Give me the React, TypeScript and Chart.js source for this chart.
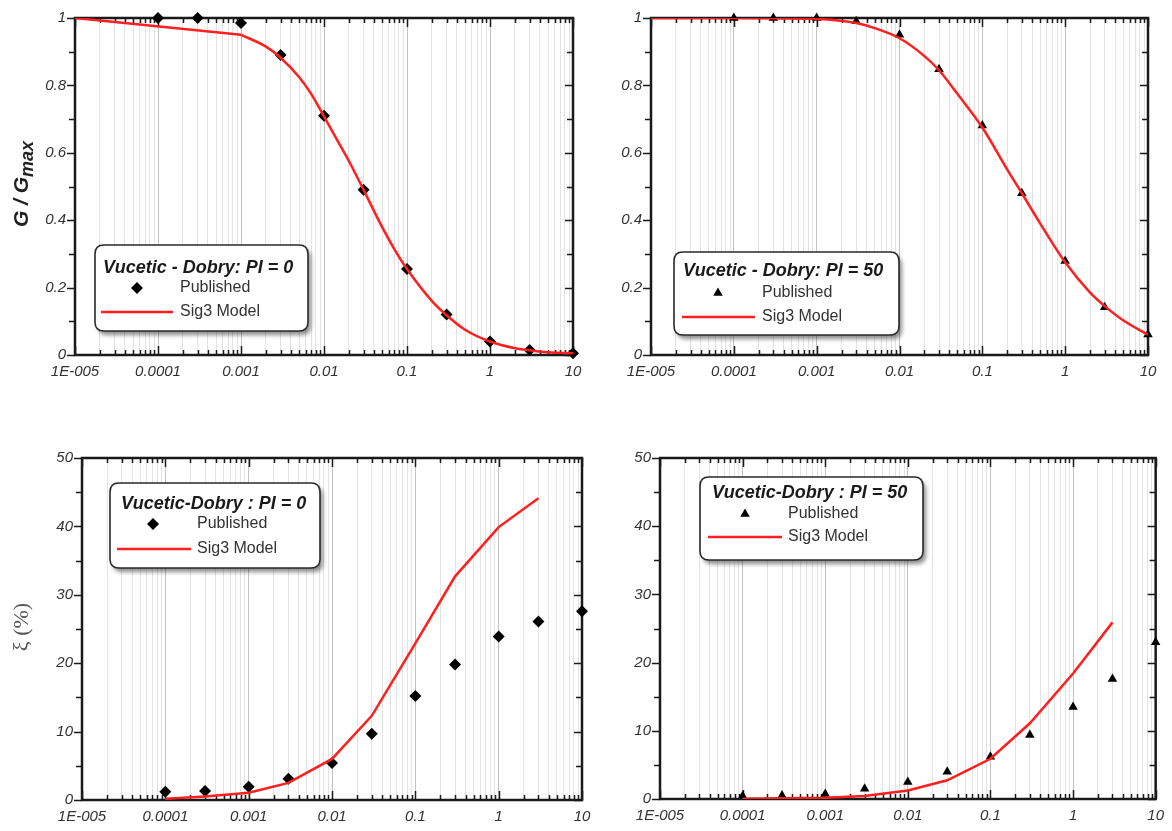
import React, { useEffect, useRef } from 'react';
import { Chart, registerables } from 'chart.js';

Chart.register(...registerables);

const W = 1172;
const H = 831;
const SANS = '"Liberation Sans", Arial, Helvetica, sans-serif';
const SERIF = '"Liberation Serif", "Times New Roman", serif';
const RED = '#ff1f1f';

// ---------- axis data ----------
const X_DECADES = [1e-5, 1e-4, 1e-3, 1e-2, 0.1, 1, 10];
const X_TICK_LABELS = ['1E-005', '0.0001', '0.001', '0.01', '0.1', '1', '10'];
const X_MINOR_MULTS = [1, 2, 3, 4, 5, 6, 7, 8, 9];
const G_Y_TICKS = [0, 0.2, 0.4, 0.6, 0.8, 1];
const XI_Y_TICKS = [0, 10, 20, 30, 40, 50];

// ---------- published data (shear strain %) ----------
const STRAIN = [0.0001, 0.0003, 0.001, 0.003, 0.01, 0.03, 0.1, 0.3, 1, 3, 10];
const G_PI0_PUB = [1.0, 1.0, 0.985, 0.89, 0.71, 0.49, 0.255, 0.12, 0.04, 0.015, 0.005];
const G_PI50_PUB = [1.0, 1.0, 1.0, 0.99, 0.95, 0.848, 0.681, 0.48, 0.279, 0.142, 0.061];
const XI_PI0_PUB = [1.2, 1.3, 1.95, 3.1, 5.4, 9.7, 15.2, 19.8, 23.9, 26.1, 27.6];
const XI_PI50_PUB = [0.45, 0.5, 0.75, 1.5, 2.5, 4.0, 6.2, 9.4, 13.5, 17.6, 23.0];

// ---------- Sig3 model curves ----------
// PI = 0: straight low-strain piece, then smooth decay
const G_PI0_MODEL_LOW_X = [1e-5, 1e-3];
const G_PI0_MODEL_LOW_Y = [1.0, 0.95];
const G_PI0_MODEL_X = [1e-3, 0.002, 0.003, 0.005, 0.007, 0.01, 0.015, 0.02, 0.03, 0.05, 0.07, 0.1, 0.2, 0.3, 0.5, 1, 2, 3, 5, 10];
const G_PI0_MODEL_Y = [0.95, 0.915, 0.882, 0.825, 0.775, 0.708, 0.63, 0.575, 0.49, 0.38, 0.315, 0.255, 0.16, 0.118, 0.075, 0.04, 0.02, 0.014, 0.008, 0.005];
const G_PI50_MODEL_X = [1e-5, 1e-4, 1e-3, 0.003, 0.005, 0.01, 0.02, 0.03, 0.05, 0.1, 0.2, 0.3, 0.5, 1, 2, 3, 5, 10];
const G_PI50_MODEL_Y = [1.0, 1.0, 0.997, 0.985, 0.97, 0.94, 0.887, 0.845, 0.775, 0.675, 0.55, 0.48, 0.39, 0.275, 0.185, 0.145, 0.103, 0.06];
const XI_MODEL_X = [0.0001, 0.0003, 0.001, 0.003, 0.01, 0.03, 0.1, 0.3, 1, 3];
const XI_PI0_MODEL = [0.2, 0.5, 1.05, 2.5, 6.0, 12.3, 22.9, 32.7, 39.9, 44.1];
const XI_PI50_MODEL = [0.05, 0.1, 0.2, 0.45, 1.25, 2.75, 5.9, 11.1, 18.4, 25.9];

const X_GRID_VALUES: number[] = [];
X_DECADES.forEach((d, i) => {
  if (i === X_DECADES.length - 1) X_GRID_VALUES.push(d);
  else X_MINOR_MULTS.forEach((m) => X_GRID_VALUES.push(m * d));
});

function isDecade(v: number) {
  const l = Math.log10(v);
  return Math.abs(l - Math.round(l)) < 1e-6;
}
function decadeLabel(v: number) {
  const l = Math.log10(v);
  if (Math.abs(l - Math.round(l)) > 1e-6) return '';
  const idx = X_DECADES.findIndex((d) => Math.abs(Math.log10(d) - l) < 1e-6);
  return idx >= 0 ? X_TICK_LABELS[idx] : '';
}

type Curve = { x: number[]; y: number[]; smooth: boolean };

type Panel = {
  area: { left: number; top: number; right: number; bottom: number };
  yMax: number;
  yTicks: number[];
  yMinorStep: number;
  marker: 'rectRot' | 'triangle';
  pubY: number[];
  curves: Curve[];
  legend: {
    box: [number, number, number, number];
    title: string;
    titleX: number;
    titleY: number;
    textX: number;
    pubRowY: number;
    markerX: number;
    lineX0: number;
    lineX1: number;
    modelRowY: number;
  };
  yTitle: 'G' | 'xi' | null;
};

const PANELS: Panel[] = [
  {
    area: { left: 75, top: 15, right: 573, bottom: 355 },
    yMax: 1, yTicks: G_Y_TICKS, yMinorStep: 0.1, marker: 'rectRot',
    pubY: G_PI0_PUB,
    curves: [
      { x: G_PI0_MODEL_LOW_X, y: G_PI0_MODEL_LOW_Y, smooth: false },
      { x: G_PI0_MODEL_X, y: G_PI0_MODEL_Y, smooth: true },
    ],
    legend: { box: [95, 245, 308, 331], title: 'Vucetic - Dobry: PI = 0', titleX: 103, titleY: 268, textX: 180, pubRowY: 288, markerX: 137, lineX0: 101, lineX1: 173, modelRowY: 312 },
    yTitle: 'G',
  },
  {
    area: { left: 651, top: 15, right: 1148, bottom: 355 },
    yMax: 1, yTicks: G_Y_TICKS, yMinorStep: 0.1, marker: 'triangle',
    pubY: G_PI50_PUB,
    curves: [{ x: G_PI50_MODEL_X, y: G_PI50_MODEL_Y, smooth: true }],
    legend: { box: [674, 252, 899, 335], title: 'Vucetic - Dobry: PI = 50', titleX: 683, titleY: 271, textX: 762, pubRowY: 293, markerX: 718, lineX0: 682, lineX1: 755, modelRowY: 317 },
    yTitle: null,
  },
  {
    area: { left: 82, top: 458, right: 582, bottom: 800 },
    yMax: 50, yTicks: XI_Y_TICKS, yMinorStep: 5, marker: 'rectRot',
    pubY: XI_PI0_PUB,
    curves: [{ x: XI_MODEL_X, y: XI_PI0_MODEL, smooth: false }],
    legend: { box: [110, 483, 320, 568], title: 'Vucetic-Dobry : PI = 0', titleX: 121, titleY: 504, textX: 197, pubRowY: 524, markerX: 153, lineX0: 117, lineX1: 191, modelRowY: 549 },
    yTitle: 'xi',
  },
  {
    area: { left: 660, top: 458, right: 1159, bottom: 799 },
    yMax: 50, yTicks: XI_Y_TICKS, yMinorStep: 5, marker: 'triangle',
    pubY: XI_PI50_PUB,
    curves: [{ x: XI_MODEL_X, y: XI_PI50_MODEL, smooth: false }],
    legend: { box: [700, 477, 923, 560], title: 'Vucetic-Dobry : PI = 50', titleX: 712, titleY: 493, textX: 788, pubRowY: 514, markerX: 745, lineX0: 708, lineX1: 782, modelRowY: 537 },
    yTitle: null,
  },
];

const X_AXIS_H = 30;

function drawMarker(ctx: CanvasRenderingContext2D, kind: string, x: number, y: number) {
  ctx.beginPath();
  if (kind === 'rectRot') {
    const r = 6;
    ctx.moveTo(x, y - r); ctx.lineTo(x + r, y); ctx.lineTo(x, y + r); ctx.lineTo(x - r, y);
  } else {
    const r = 5.5;
    ctx.moveTo(x, y - r);
    ctx.lineTo(x + r * 0.866, y + r * 0.5);
    ctx.lineTo(x - r * 0.866, y + r * 0.5);
  }
  ctx.closePath();
  ctx.fillStyle = '#000';
  ctx.fill();
}

function roundRectPath(ctx: CanvasRenderingContext2D, x0: number, y0: number, x1: number, y1: number, r: number) {
  ctx.beginPath();
  ctx.moveTo(x0 + r, y0);
  ctx.lineTo(x1 - r, y0);
  ctx.quadraticCurveTo(x1, y0, x1, y0 + r);
  ctx.lineTo(x1, y1 - r);
  ctx.quadraticCurveTo(x1, y1, x1 - r, y1);
  ctx.lineTo(x0 + r, y1);
  ctx.quadraticCurveTo(x0, y1, x0, y1 - r);
  ctx.lineTo(x0, y0 + r);
  ctx.quadraticCurveTo(x0, y0, x0 + r, y0);
  ctx.closePath();
}

function makeDecor(p: Panel) {
  return {
    id: 'decor',
    beforeDatasetsDraw(chart: any) {
      const { ctx, chartArea } = chart;
      const { left, right, top, bottom } = chartArea;
      const xs = chart.scales.x;
      const ys = chart.scales.y;
      ctx.save();
      ctx.strokeStyle = '#1a1a1a';
      ctx.lineWidth = 1.5;
      ctx.beginPath();
      X_GRID_VALUES.forEach((v) => {
        const px = Math.round(xs.getPixelForValue(v)) + 0.5;
        const len = isDecade(v) ? 9 : 5;
        ctx.moveTo(px, bottom); ctx.lineTo(px, bottom - len);
        ctx.moveTo(px, top); ctx.lineTo(px, top + len);
      });
      const n = Math.round(p.yMax / p.yMinorStep);
      for (let k = 0; k <= n; k++) {
        const v = k * p.yMinorStep;
        const py = Math.round(ys.getPixelForValue(v)) + 0.5;
        const major = k % 2 === 0;
        const len = major ? 8 : 6;
        ctx.moveTo(left - len, py); ctx.lineTo(left, py);
        ctx.moveTo(right - len, py); ctx.lineTo(right, py);
      }
      ctx.stroke();
      ctx.lineWidth = 2.5;
      ctx.strokeRect(left, top, right - left, bottom - top);
      ctx.restore();
    },
    afterDatasetsDraw(chart: any) {
      const ctx: CanvasRenderingContext2D = chart.ctx;
      const L = p.legend;
      ctx.save();
      roundRectPath(ctx, L.box[0], L.box[1], L.box[2], L.box[3], 9);
      ctx.shadowColor = 'rgba(0,0,0,0.45)';
      ctx.shadowBlur = 4;
      ctx.shadowOffsetX = 3;
      ctx.shadowOffsetY = 4;
      ctx.fillStyle = '#fff';
      ctx.fill();
      ctx.shadowColor = 'rgba(0,0,0,0)';
      ctx.shadowBlur = 0;
      ctx.shadowOffsetX = 0;
      ctx.shadowOffsetY = 0;
      ctx.lineWidth = 1.6;
      ctx.strokeStyle = '#2a2a2a';
      ctx.stroke();
      ctx.textAlign = 'left';
      ctx.textBaseline = 'middle';
      ctx.fillStyle = '#1a1a1a';
      ctx.font = `italic bold 18px ${SANS}`;
      ctx.fillText(L.title, L.titleX, L.titleY);
      ctx.font = `16px ${SANS}`;
      ctx.fillStyle = '#333';
      ctx.fillText('Published', L.textX, L.pubRowY);
      ctx.fillText('Sig3 Model', L.textX, L.modelRowY);
      drawMarker(ctx, p.marker, L.markerX, L.pubRowY);
      ctx.beginPath();
      ctx.strokeStyle = RED;
      ctx.lineWidth = 2.5;
      ctx.moveTo(L.lineX0, L.modelRowY);
      ctx.lineTo(L.lineX1, L.modelRowY);
      ctx.stroke();

      if (p.yTitle === 'G') {
        ctx.save();
        ctx.translate(28, 184);
        ctx.rotate(-Math.PI / 2);
        ctx.textBaseline = 'alphabetic';
        ctx.fillStyle = '#222';
        ctx.font = `italic bold 21px ${SANS}`;
        const w1 = ctx.measureText('G / G').width;
        ctx.font = `italic bold 18px ${SANS}`;
        const w2 = ctx.measureText('max').width;
        const x0 = -(w1 + w2) / 2;
        ctx.font = `italic bold 21px ${SANS}`;
        ctx.fillText('G / G', x0, 0);
        ctx.font = `italic bold 18px ${SANS}`;
        ctx.fillText('max', x0 + w1, 5);
        ctx.restore();
      } else if (p.yTitle === 'xi') {
        ctx.save();
        ctx.translate(28, 627);
        ctx.rotate(-Math.PI / 2);
        ctx.textAlign = 'center';
        ctx.textBaseline = 'alphabetic';
        ctx.fillStyle = '#555';
        ctx.font = `22px ${SERIF}`;
        ctx.fillText('ξ (%)', 0, 0);
        ctx.restore();
      }
      ctx.restore();
    },
  };
}

function PanelChart({ p }: { p: Panel }) {
  const ref = useRef<HTMLCanvasElement | null>(null);
  useEffect(() => {
    if (!ref.current) return;
    const modelSets = p.curves.map((c) => ({
      label: 'Sig3 Model',
      data: c.x.map((x, i) => ({ x, y: c.y[i] })),
      borderColor: RED,
      backgroundColor: RED,
      borderWidth: 2.5,
      pointRadius: 0,
      fill: false,
      tension: 0,
      cubicInterpolationMode: c.smooth ? 'monotone' : 'default',
    }));
    const chart = new Chart(ref.current, {
      type: 'line',
      data: {
        datasets: [
          ...(modelSets as any[]),
          {
            label: 'Published',
            data: STRAIN.map((x, i) => ({ x, y: p.pubY[i] })),
            showLine: false,
            pointStyle: p.marker,
            pointRadius: p.marker === 'rectRot' ? 6 : 5.5,
            pointBackgroundColor: '#000',
            pointBorderColor: '#000',
            pointBorderWidth: 0,
            clip: false,
          } as any,
        ],
      },
      options: {
        responsive: false,
        animation: false,
        events: [],
        layout: {
          padding: {
            left: 0,
            top: p.area.top,
            right: W - p.area.right,
            bottom: H - p.area.bottom - X_AXIS_H,
          },
        },
        plugins: { legend: { display: false }, tooltip: { enabled: false } },
        scales: {
          x: {
            type: 'logarithmic',
            min: 1e-5,
            max: 10,
            afterBuildTicks: (axis: any) => {
              axis.ticks = X_GRID_VALUES.map((v) => ({ value: v, major: isDecade(v) }));
            },
            afterFit: (axis: any) => {
              axis.height = X_AXIS_H;
            },
            grid: {
              drawTicks: false,
              lineWidth: 1,
              color: (c: any) => (c.tick && isDecade(c.tick.value) ? '#c2c2c2' : '#e3e3e3'),
            },
            border: { display: false },
            ticks: {
              autoSkip: false,
              maxRotation: 0,
              minRotation: 0,
              padding: 8,
              color: '#333',
              font: { family: SANS, size: 15, style: 'italic' },
              callback: (v: any) => decadeLabel(Number(v)),
            },
          },
          y: {
            type: 'linear',
            min: 0,
            max: p.yMax,
            afterBuildTicks: (axis: any) => {
              axis.ticks = p.yTicks.map((v) => ({ value: v }));
            },
            afterFit: (axis: any) => {
              axis.width = p.area.left;
            },
            grid: { display: false, drawTicks: false },
            border: { display: false },
            ticks: {
              padding: 9,
              color: '#333',
              font: { family: SANS, size: 15, style: 'italic' },
              callback: (v: any) => String(v),
            },
          },
        },
      } as any,
      plugins: [makeDecor(p)],
    });
    return () => chart.destroy();
  }, [p]);
  return (
    <canvas
      ref={ref}
      width={W}
      height={H}
      style={{ position: 'absolute', left: 0, top: 0, width: W, height: H }}
    />
  );
}

export default function App() {
  return (
    <div style={{ position: 'absolute', left: 0, top: 0, width: W, height: H, background: '#fff', overflow: 'hidden' }}>
      {PANELS.map((p, i) => (
        <PanelChart key={i} p={p} />
      ))}
    </div>
  );
}
